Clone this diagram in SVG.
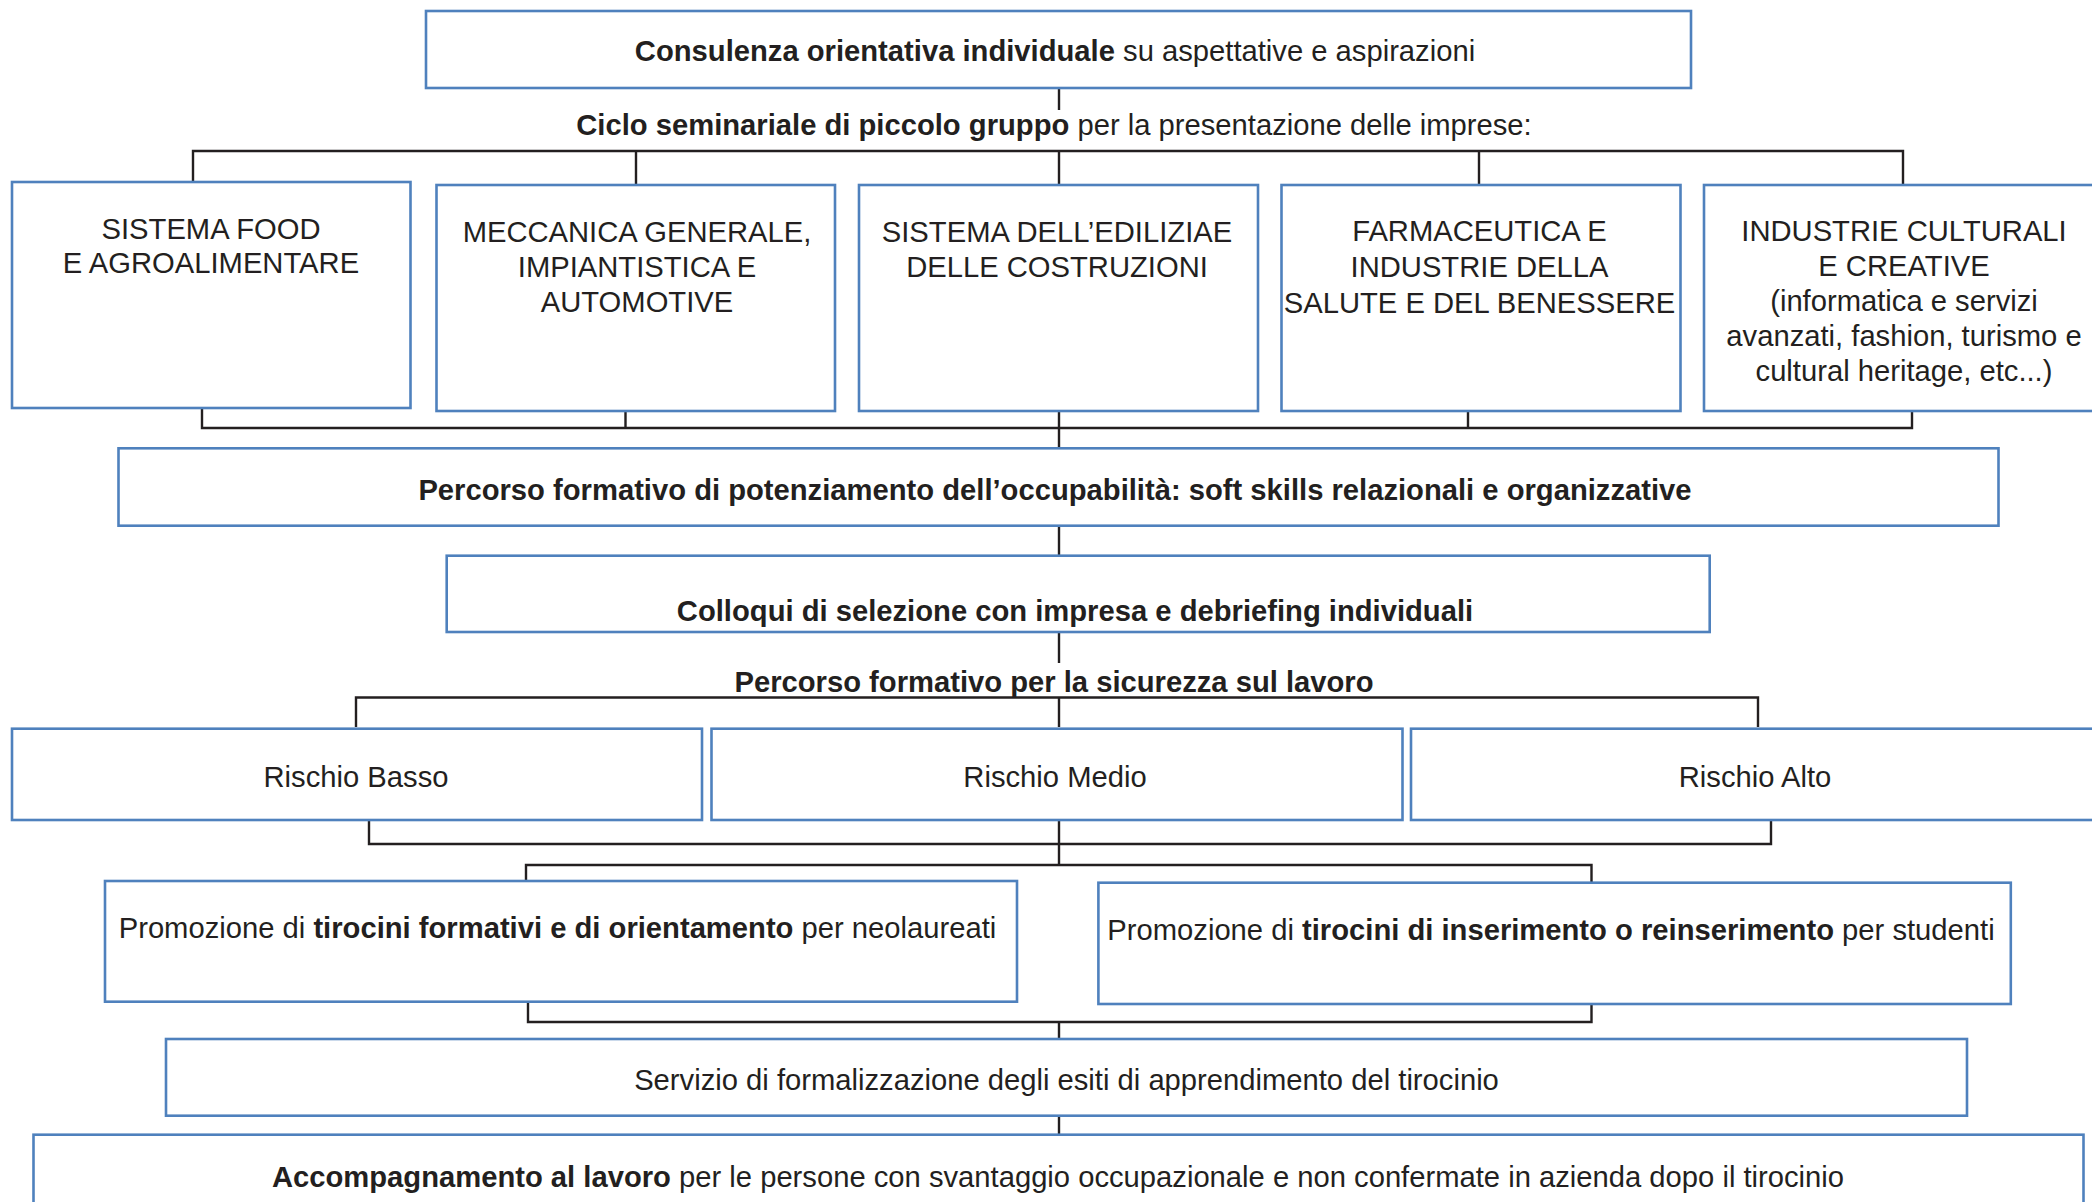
<svg xmlns="http://www.w3.org/2000/svg" width="2092" height="1202" viewBox="0 0 2092 1202">
<style>
.box{fill:#ffffff;stroke:#4f81bd;stroke-width:2.6}
.t{font-family:"Liberation Sans",Arial,sans-serif;font-size:29.2px;fill:#231f20;text-anchor:middle}
.b{font-weight:bold}
.con{fill:none;stroke:#231f20;stroke-width:2.4}
</style>
<rect width="2092" height="1202" fill="#ffffff"/>
<g id="connectors">
<path class="con" d="M1059 88V110"/>
<path class="con" d="M193 183V151H1903V184M636 151V185M1059 151V185M1479 151V185"/>
<path class="con" d="M202 408V428H1912V411M625.5 411V428M1468 411V428M1059 411V448"/>
<path class="con" d="M1059 526V556"/>
<path class="con" d="M1059 632V663"/>
<path class="con" d="M356 727V697.5H1758V727M1059 697.5V727"/>
<path class="con" d="M369 820V844H1771V820M1059 820V865"/>
<path class="con" d="M526 881V865H1591.5V883"/>
<path class="con" d="M528 1001V1022H1591.5V1004M1059 1022V1039"/>
<path class="con" d="M1059 1116V1135"/>
</g>
<g id="n-consulenza">
<rect class="box" x="426" y="11" width="1265" height="77"/>
<text class="t" x="1055" y="61"><tspan class="b">Consulenza orientativa individuale</tspan> su aspettative e aspirazioni</text>
</g>
<g id="n-ciclo">
<text class="t" x="1054" y="135"><tspan class="b">Ciclo seminariale di piccolo gruppo</tspan> per la presentazione delle imprese:</text>
</g>
<g id="n-food">
<rect class="box" x="12" y="182" width="398.5" height="226"/>
<text class="t" x="211" y="239">SISTEMA FOOD</text>
<text class="t" x="211" y="273">E AGROALIMENTARE</text>
</g>
<g id="n-meccanica">
<rect class="box" x="436.5" y="185" width="398.5" height="226"/>
<text class="t" x="637" y="242">MECCANICA GENERALE,</text>
<text class="t" x="637" y="277">IMPIANTISTICA E</text>
<text class="t" x="637" y="312">AUTOMOTIVE</text>
</g>
<g id="n-edilizia">
<rect class="box" x="859" y="185" width="399" height="226"/>
<text class="t" x="1057" y="242">SISTEMA DELL’EDILIZIAE</text>
<text class="t" x="1057" y="277">DELLE COSTRUZIONI</text>
</g>
<g id="n-farmaceutica">
<rect class="box" x="1281.5" y="185" width="399" height="226"/>
<text class="t" x="1479.5" y="241">FARMACEUTICA E</text>
<text class="t" x="1479.5" y="277">INDUSTRIE DELLA</text>
<text class="t" x="1479.5" y="313">SALUTE E DEL BENESSERE</text>
</g>
<g id="n-culturali">
<rect class="box" x="1704" y="185" width="400" height="226"/>
<text class="t" x="1904" y="241">INDUSTRIE CULTURALI</text>
<text class="t" x="1904" y="276">E CREATIVE</text>
<text class="t" x="1904" y="311">(informatica e servizi</text>
<text class="t" x="1904" y="346">avanzati, fashion, turismo e</text>
<text class="t" x="1904" y="381">cultural heritage, etc...)</text>
</g>
<g id="n-potenziamento">
<rect class="box" x="118.5" y="448.3" width="1880" height="77.4"/>
<text class="t b" x="1055" y="500">Percorso formativo di potenziamento dell’occupabilità: soft skills relazionali e organizzative</text>
</g>
<g id="n-colloqui">
<rect class="box" x="446.7" y="555.7" width="1263" height="76.3"/>
<text class="t b" x="1075" y="621">Colloqui di selezione con impresa e debriefing individuali</text>
</g>
<g id="n-sicurezza">
<text class="t b" x="1054" y="692">Percorso formativo per la sicurezza sul lavoro</text>
</g>
<g id="n-basso">
<rect class="box" x="12" y="728.7" width="690" height="91.3"/>
<text class="t" x="356" y="787">Rischio Basso</text>
</g>
<g id="n-medio">
<rect class="box" x="711.5" y="728.7" width="691" height="91.3"/>
<text class="t" x="1055" y="787">Rischio Medio</text>
</g>
<g id="n-alto">
<rect class="box" x="1411" y="728.7" width="700" height="91.3"/>
<text class="t" x="1755" y="787">Rischio Alto</text>
</g>
<g id="n-tirocini-formativi">
<rect class="box" x="105" y="881" width="912" height="120.7"/>
<text class="t" x="557.5" y="938">Promozione di <tspan class="b">tirocini formativi e di orientamento</tspan> per neolaureati</text>
</g>
<g id="n-tirocini-inserimento">
<rect class="box" x="1098.4" y="882.7" width="912.4" height="121.3"/>
<text class="t" x="1551" y="940">Promozione di <tspan class="b">tirocini di inserimento o reinserimento</tspan> per studenti</text>
</g>
<g id="n-servizio">
<rect class="box" x="166" y="1039" width="1801" height="76.7"/>
<text class="t" x="1066.5" y="1090">Servizio di formalizzazione degli esiti di apprendimento del tirocinio</text>
</g>
<g id="n-accompagnamento">
<rect class="box" x="33.5" y="1134.7" width="2050" height="100"/>
<text class="t" x="1058" y="1187"><tspan class="b">Accompagnamento al lavoro</tspan> per le persone con svantaggio occupazionale e non confermate in azienda dopo il tirocinio</text>
</g>
</svg>
